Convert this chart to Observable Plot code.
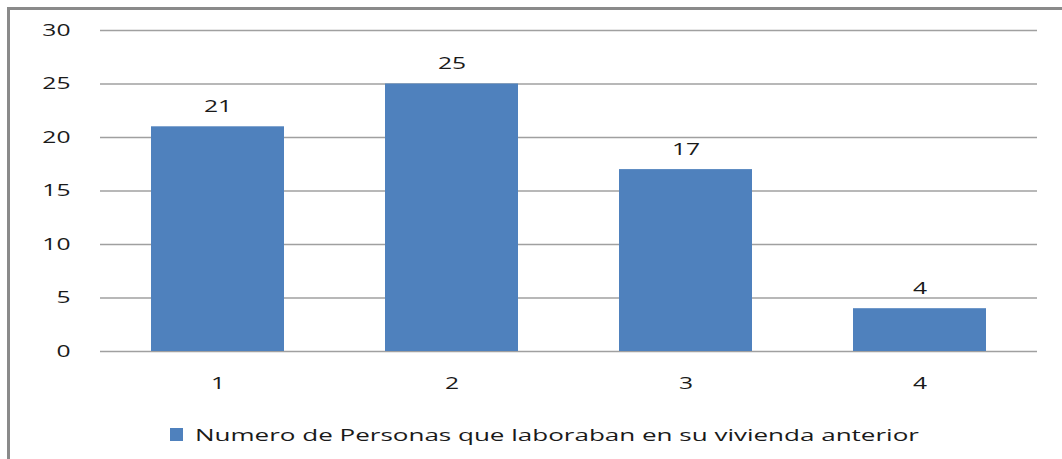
<!DOCTYPE html>
<html>
<head>
<meta charset="utf-8">
<script src="https://cdn.jsdelivr.net/npm/d3@7"></script>
<script src="https://cdn.jsdelivr.net/npm/@observablehq/plot@0.6"></script>
<style>
  html, body { margin: 0; padding: 0; background: #fff; }
  #wrap { position: relative; width: 1062px; height: 459px; overflow: hidden; font-family: "Open Sans", sans-serif; }
  #frame { position: absolute; left: 7px; top: 7px; width: 1060px; height: 460px; border-left: 3px solid #8a8a8a; border-top: 3px solid #8a8a8a; box-sizing: border-box; }
  #chart { position: absolute; left: 0; top: 0; }
  #legend { position: absolute; left: 170px; top: 423px; display: flex; align-items: center; font-size: 17px; color: #1a1a1a; }
  #legend .sw { width: 13px; height: 13px; background: #4F81BD; margin-right: 12px; }
  #legtext { display: inline-block; transform: scaleX(1.53); transform-origin: left center; white-space: nowrap; }
</style>
</head>
<body>
<div id="wrap">
  <div id="chart"></div>
  <div id="frame"></div>
  <div id="legend"><span class="sw"></span><span id="legtext"></span></div>
</div>
<script>
const categories = ["1", "2", "3", "4"];
const values = [21, 25, 17, 4];
const yTicks = [0, 5, 10, 15, 20, 25, 30];
const seriesName = "Numero de Personas que laboraban en su vivienda anterior";

const data = categories.map((c, i) => ({cat: c, value: values[i]}));

const chart = Plot.plot({
  width: 1062,
  height: 410,
  marginTop: 30,
  marginBottom: 59,
  marginLeft: 100,
  marginRight: 25,
  style: {fontFamily: "'Open Sans', sans-serif", fontSize: "17px", color: "#1a1a1a", background: "transparent"},
  x: {domain: categories, paddingInner: 0.43, paddingOuter: 0.215, label: null, tickSize: 0, tickPadding: 25},
  y: {domain: [0, 30], ticks: yTicks, label: null, tickSize: 0, tickPadding: 30},
  marks: [
    Plot.ruleY(yTicks, {stroke: "#a0a0a0", strokeWidth: 1.5}),
    Plot.barY(data, {x: "cat", y: "value", fill: "#4F81BD"}),
    Plot.text(data, {x: "cat", y: "value", text: d => String(d.value), dy: -20, fontSize: 17, fill: "#1a1a1a"})
  ]
});
document.getElementById("chart").appendChild(chart);
document.getElementById("legtext").textContent = seriesName;

// Horizontal stretch of the text, as in the reference
const SX = 1.45;
chart.querySelectorAll("text").forEach(t => {
  const tr = t.getAttribute("transform");
  if (tr) {
    t.setAttribute("transform", tr + ` scale(${SX},1)`);
  } else {
    const x = +(t.getAttribute("x") || 0), y = +(t.getAttribute("y") || 0);
    t.setAttribute("transform", `translate(${x},${y}) scale(${SX},1) translate(${-x},${-y})`);
  }
});
</script>
</body>
</html>
